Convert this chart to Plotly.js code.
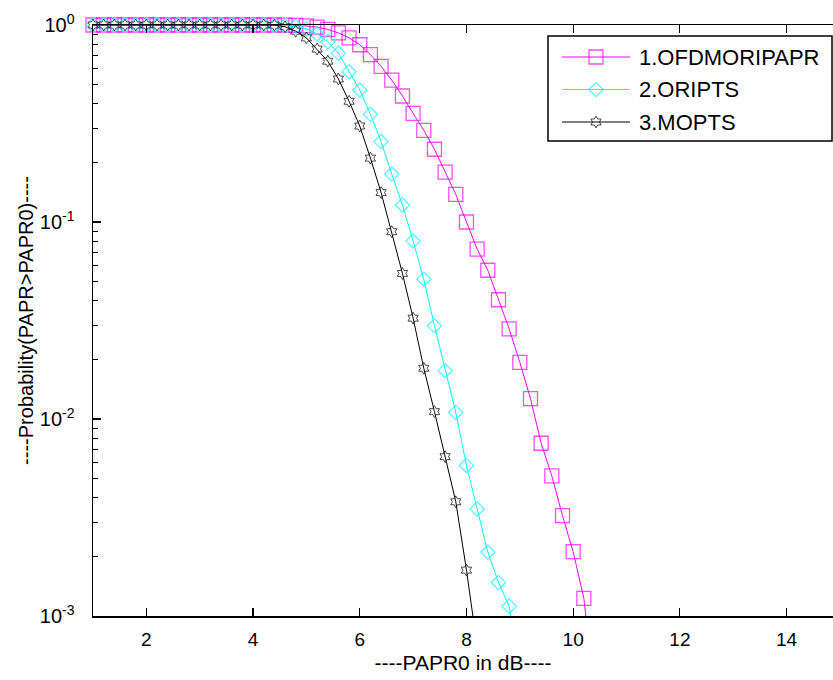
<!DOCTYPE html>
<html>
<head>
<meta charset="utf-8">
<script src="https://cdn.plot.ly/plotly-3.0.1.min.js"></script>
<style>
  html, body { margin: 0; padding: 0; background: #fff; }
  #chart { width: 833px; height: 680px; }
</style>
</head>
<body>
<div id="chart"></div>
<script>
// PAPR0 grid (dB)
const papr0 = [1.0,1.2,1.4,1.6,1.8,2.0,2.2,2.4,2.6,2.8,3.0,3.2,3.4,3.6,3.8,4.0,4.2,4.4,4.6,4.8,
               5.0,5.2,5.4,5.6,5.8,6.0,6.2,6.4,6.6,6.8,7.0,7.2,7.4,7.6,7.8,8.0,8.2,8.4,8.6,8.8,
               9.0,9.2,9.4,9.6,9.8,10.0,10.2,10.4];

// 1.OFDMORIPAPR (x: 1.0 .. 10.4)
const ofdmOriPapr = [1,1,1,1,1,1,1,1,1,1,1,1,1,1,1,1,1,1,0.999,0.996,
                     0.989,0.975,0.95,0.912,0.861,0.794,0.708,0.617,0.525,0.436,0.356,0.292,0.234,0.179,0.138,0.100,0.0729,0.0569,0.0403,0.0287,
                     0.0194,0.0127,0.00753,0.00514,0.00323,0.00212,0.00123,0.0004];

// 2.ORIPTS (x: 1.0 .. 9.0)
const oriPts = [1,1,1,1,1,1,1,1,1,1,1,1,1,1,1,1,1,0.998,0.994,0.982,
                0.955,0.90,0.822,0.718,0.579,0.468,0.352,0.256,0.175,0.122,0.080,0.0512,0.0297,0.0176,0.0108,0.0058,0.00349,0.00211,0.00148,0.00112,
                0.00056];

// 3.MOPTS (x: 1.0 .. 8.2)
const moPts = [1,1,1,1,1,1,1,1,1,1,1,1,1,1,1,1,1,0.998,0.98,0.93,
               0.86,0.755,0.655,0.532,0.41,0.307,0.211,0.141,0.0893,0.0548,0.0325,0.0181,0.0109,0.00644,0.0038,0.00171,0.0007];

const seriesNames = ['1.OFDMORIPAPR', '2.ORIPTS', '3.MOPTS'];

const yTickVals = [0.001, 0.01, 0.1, 1];
const yTickText = ['10<sup>-3</sup>', '10<sup>-2</sup>', '10<sup>-1</sup>', '10<sup>0</sup>'];
const xTickVals = [2, 4, 6, 8, 10, 12, 14];

const FONT = 'Liberation Sans, Arial, Helvetica, sans-serif';

// minor tick positions on the log axis (2..9 in each decade)
const yMinorVals = [];
[0.001, 0.01, 0.1].forEach(d => { for (let k = 2; k <= 9; k++) yMinorVals.push(+(k * d).toPrecision(3)); });

// styles per series
const styles = [
  { color: '#ff00ff', symbol: 'square-open',   size: 14, lw: 1.3 },
  { color: '#00ffff', symbol: 'diamond-open',  size: 11, lw: 1.2 },
  { color: '#000000', symbol: 'hexagram-open', size: 9,  lw: 1.0 }
];
const seriesValues = [ofdmOriPapr, oriPts, moPts];

// legend box geometry in pixels (overlay axes map 1:1 to page pixels)
const LEG = { x0: 548, x1: 832, y0: 36, y1: 141, rows: [57, 89.5, 122], lineX0: 562, lineX1: 630, textX: 637 };

const data = [];
seriesValues.forEach((yvals, i) => {
  const s = styles[i];
  data.push({
    x: papr0.slice(0, yvals.length), y: yvals, name: seriesNames[i],
    type: 'scatter', mode: 'lines+markers', cliponaxis: false, showlegend: false,
    line: { color: s.color, width: 1 },
    marker: {
      symbol: s.symbol, size: yvals.map(v => v < 0.001 ? 0 : s.size),
      color: s.color, line: { color: s.color, width: s.lw }
    }
  });
});
// legend samples
seriesValues.forEach((yvals, i) => {
  const s = styles[i];
  const r = LEG.rows[i];
  const xm = (LEG.lineX0 + LEG.lineX1) / 2;
  data.push({
    x: [LEG.lineX0, xm, LEG.lineX1], y: [r, r, r], xaxis: 'x2', yaxis: 'y2',
    type: 'scatter', mode: 'lines+markers', cliponaxis: false, showlegend: false, hoverinfo: 'skip',
    line: { color: s.color, width: 1 },
    marker: { symbol: s.symbol, size: [0, s.size, 0], color: s.color, line: { color: s.color, width: s.lw } }
  });
});

const annotations = seriesNames.map((n, i) => ({
  text: n, xref: 'x2', yref: 'y2', x: LEG.textX, y: LEG.rows[i],
  xanchor: 'left', yanchor: 'middle', showarrow: false,
  font: { family: FONT, size: 22, color: '#000' }
}));

const layout = {
  width: 833, height: 680,
  margin: { l: 93, r: 0, t: 25, b: 64 },
  paper_bgcolor: '#fff', plot_bgcolor: '#fff',
  font: { family: FONT, color: '#000', size: 19 },
  showlegend: false,
  annotations: annotations,
  shapes: [{
    type: 'rect', xref: 'x2', yref: 'y2', x0: LEG.x0, x1: LEG.x1, y0: LEG.y0, y1: LEG.y1,
    fillcolor: '#fff', line: { color: '#000', width: 1.5 }, layer: 'below'
  }],
  xaxis: {
    range: [1, 14.87], tickvals: xTickVals, ticktext: xTickVals.map(String),
    ticks: 'inside', ticklen: 8, tickwidth: 1.2, tickcolor: '#000',
    showline: true, linecolor: '#000', linewidth: 1.5, mirror: 'ticks',
    showgrid: false, zeroline: false,
    tickfont: { family: FONT, size: 19 },
    ticklabelstandoff: 6,
    title: { text: '----PAPR0 in dB----', font: { family: FONT, size: 21 }, standoff: 6 }
  },
  yaxis: {
    type: 'log', range: [-3, 0], tickvals: yTickVals, ticktext: yTickText,
    ticks: 'inside', ticklen: 8, tickwidth: 1.2, tickcolor: '#000',
    minor: { tickmode: 'array', tickvals: yMinorVals, ticks: 'inside', ticklen: 5, tickwidth: 1, tickcolor: '#000', showgrid: false },
    showline: true, linecolor: '#000', linewidth: 1.5, mirror: true,
    showgrid: false, zeroline: false,
    tickfont: { family: FONT, size: 20 },
    ticklabelstandoff: 13,
    title: { text: '----Probability(PAPR>PAPR0)----', font: { family: FONT, size: 20 }, standoff: 1 }
  },
  xaxis2: { overlaying: 'x', anchor: 'y2', range: [93, 833], visible: false, showgrid: false, zeroline: false },
  yaxis2: { overlaying: 'y', anchor: 'x2', range: [616, 25], visible: false, showgrid: false, zeroline: false }
};

Plotly.newPlot('chart', data, layout, { displayModeBar: false, staticPlot: true });
</script>
</body>
</html>
